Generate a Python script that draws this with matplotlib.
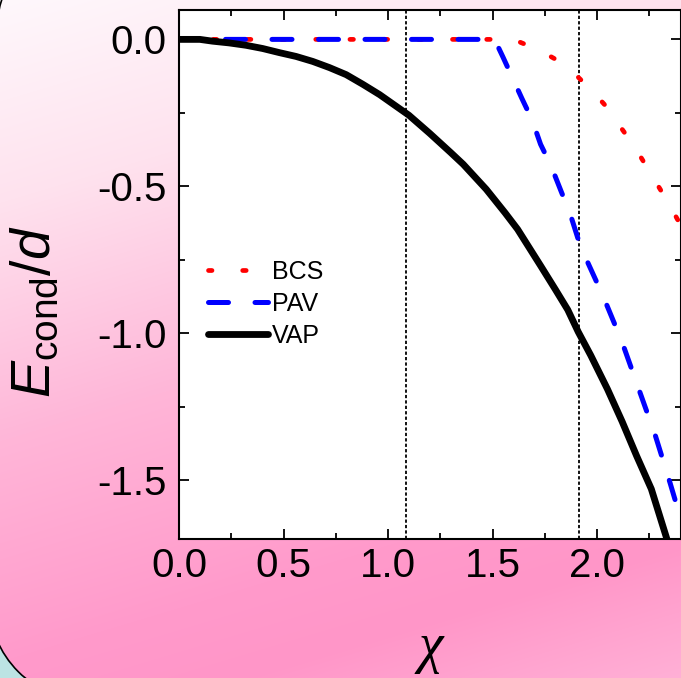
import numpy as np
import matplotlib.pyplot as plt
from matplotlib.patches import Arc
from matplotlib.ticker import MultipleLocator

plt.rcParams['font.family'] = 'Liberation Sans'
plt.rcParams['axes.unicode_minus'] = False
plt.rcParams['mathtext.fontset'] = 'custom'
plt.rcParams['mathtext.rm'] = 'Liberation Sans'
plt.rcParams['mathtext.it'] = 'Liberation Sans:italic'

# condensation energy vs coupling chi
chi_vap = [0.00, 0.10, 0.16, 0.24, 0.32, 0.40, 0.48, 0.56, 0.64, 0.72, 0.80,
           0.88, 0.96, 1.04, 1.10, 1.20, 1.30, 1.36, 1.47, 1.56, 1.62, 1.73,
           1.80, 1.86, 1.91, 1.97, 2.05, 2.12, 2.19, 2.26, 2.33, 2.36]
e_vap = [0.000, 0.000, -0.006, -0.012, -0.020, -0.031, -0.045, -0.058, -0.075,
         -0.096, -0.120, -0.153, -0.188, -0.228, -0.258, -0.320, -0.385, -0.425,
         -0.510, -0.590, -0.646, -0.770, -0.850, -0.920, -0.995, -1.075, -1.190,
         -1.300, -1.418, -1.530, -1.690, -1.760]

chi_pav = [0.00, 1.51, 1.55, 1.64, 1.69, 1.73, 1.78, 1.83, 1.87, 1.91, 1.95,
           2.03, 2.12, 2.20, 2.28, 2.35, 2.40]
e_pav = [0.000, 0.000, -0.060, -0.200, -0.275, -0.357, -0.430, -0.520, -0.590,
         -0.680, -0.750, -0.875, -1.030, -1.190, -1.350, -1.510, -1.630]

chi_bcs = [0.00, 1.60, 1.64, 1.72, 1.81, 1.89, 1.97, 2.04, 2.10, 2.16, 2.21,
           2.26, 2.31, 2.36, 2.40]
e_bcs = [0.000, 0.000, -0.012, -0.035, -0.071, -0.115, -0.170, -0.225, -0.286,
         -0.345, -0.401, -0.460, -0.519, -0.580, -0.632]

chi_marks = [1.088, 1.914]

W, H = 681, 678
fig = plt.figure(figsize=(W / 100, H / 100), dpi=100)

# pink slide background with rounded corners
bg = fig.add_axes([0, 0, 1, 1], zorder=-5)
yy, xx = np.mgrid[0:H, 0:W] + 0.5
s = (yy + 0.3 * xx) / (H + 0.3 * W)
stops = [0.0, 0.23, 0.5, 0.75, 0.85, 1.0]
red = [255, 254, 255, 255, 255, 255]
green = [248, 226, 182, 154, 150, 176]
blue = [252, 238, 216, 203, 200, 214]
img = np.dstack([np.interp(s, stops, c) for c in (red, green, blue)]) / 255

rad = 100
cx1, cy1 = 89, 601
far1 = (xx < cx1) & (yy > cy1) & ((xx - cx1) ** 2 + (yy - cy1) ** 2 > rad ** 2)
img[far1] = np.array([188, 227, 227]) / 255
cx2, cy2 = 97, 30
far2 = (xx < cx2) & (yy < cy2) & ((xx - cx2) ** 2 + (yy - cy2) ** 2 > rad ** 2)
img[far2] = 1.0

bg.imshow(img, extent=(0, W, H, 0), interpolation='bilinear')
bg.add_patch(Arc((cx1, cy1), 2 * rad, 2 * rad, theta1=90, theta2=180, color='k', lw=1.2))
bg.add_patch(Arc((cx2, cy2), 2 * rad, 2 * rad, theta1=180, theta2=270, color='k', lw=1.2))
bg.set_xlim(0, W)
bg.set_ylim(H, 0)
bg.axis('off')

ax = fig.add_axes([179 / W, (H - 539) / H, 501.6 / W, 529 / H])
ax.set_facecolor('white')

for c in chi_marks:
    ax.axvline(c, color='k', lw=1.3, ls=(0, (1.8, 1.2)), zorder=1)

ax.plot(chi_bcs, e_bcs, color='red', lw=3.4, ls=(0, (0.74, 6.5)),
        dash_capstyle='round', label='BCS', zorder=2)
ax.plot(chi_pav, e_pav, color='blue', lw=3.6, ls=(0, (4.0, 5.3)),
        dash_capstyle='round', label='PAV', zorder=3)
ax.plot(chi_vap, e_vap, color='black', lw=4.9, solid_capstyle='round',
        label='VAP', zorder=4)

ax.set_xlim(0, 2.4)
ax.set_ylim(-1.7, 0.1)
ax.xaxis.set_major_locator(MultipleLocator(0.5))
ax.xaxis.set_minor_locator(MultipleLocator(0.25))
ax.yaxis.set_major_locator(MultipleLocator(0.5))
ax.yaxis.set_minor_locator(MultipleLocator(0.25))
ax.xaxis.set_major_formatter(plt.FormatStrFormatter('%.1f'))
ax.yaxis.set_major_formatter(plt.FormatStrFormatter('%.1f'))
ax.tick_params(which='both', direction='in', top=True, right=True, width=1.3)
ax.tick_params(which='major', length=7.5, labelsize=29)
ax.tick_params(axis='y', which='major', pad=9)
ax.tick_params(axis='x', which='major', pad=6)
ax.tick_params(which='minor', length=4.5)
for sp in ax.spines.values():
    sp.set_linewidth(1.5)

ax.legend(loc='upper left', bbox_to_anchor=(0.058, 0.528), frameon=False,
          fontsize=18, handlelength=2.4, handletextpad=0.15, labelspacing=0.32,
          borderpad=0, borderaxespad=0)

fig.text(36 / W, 1 - 312 / H, r'$E_{\mathrm{cond}}/d$', rotation=90,
         ha='center', va='center', fontsize=40)
fig.text(431 / W, 1 - 662 / H, 'χ', family='Liberation Serif', style='italic',
         ha='center', va='baseline', fontsize=40)

fig.savefig('out.png', dpi=100)
